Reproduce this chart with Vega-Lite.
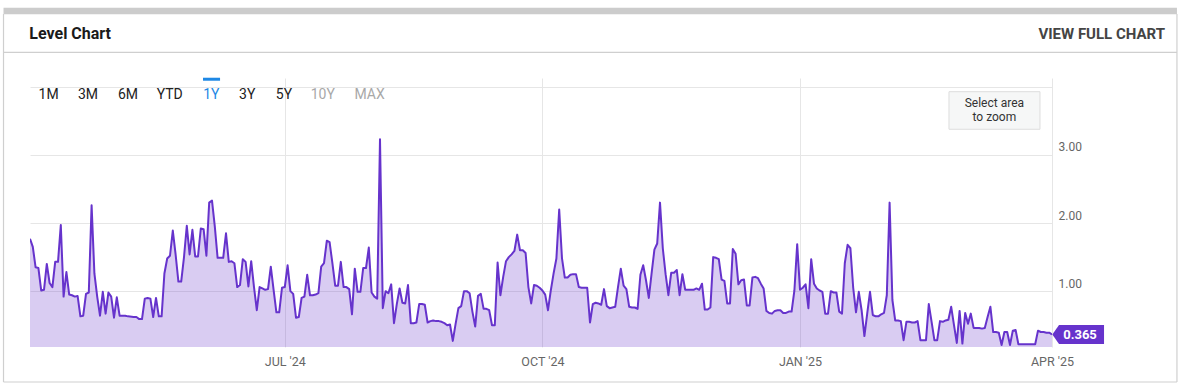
{
"$schema": "https://vega.github.io/schema/vega-lite/v6.json",
"width": 1022, "height": 269,
"autosize": {"type": "none"},
"padding": {"left": 30, "top": 78, "right": 138, "bottom": 43},
"background": "#ffffff",
"config": {"view": {"stroke": null}, "font": "Roboto"},
"datasets": {"level": [
{"date":"2024-04-01","level":1.77},{"date":"2024-04-02","level":1.65},{"date":"2024-04-03","level":1.35},{"date":"2024-04-04","level":1.34},{"date":"2024-04-05","level":1.01},{"date":"2024-04-06","level":1.02},{"date":"2024-04-07","level":1.40},{"date":"2024-04-08","level":1.12},{"date":"2024-04-09","level":1.06},{"date":"2024-04-10","level":1.43},{"date":"2024-04-11","level":1.43},{"date":"2024-04-12","level":1.97},{"date":"2024-04-13","level":0.92},{"date":"2024-04-14","level":1.28},{"date":"2024-04-15","level":0.95},{"date":"2024-04-16","level":0.94},{"date":"2024-04-17","level":0.92},{"date":"2024-04-18","level":0.93},{"date":"2024-04-19","level":0.63},{"date":"2024-04-20","level":0.64},{"date":"2024-04-21","level":0.96},{"date":"2024-04-22","level":0.98},{"date":"2024-04-23","level":2.26},{"date":"2024-04-24","level":1.26},{"date":"2024-04-25","level":0.92},{"date":"2024-04-26","level":0.64},{"date":"2024-04-27","level":0.99},{"date":"2024-04-28","level":0.67},{"date":"2024-04-29","level":0.98},{"date":"2024-04-30","level":0.92},
{"date":"2024-05-01","level":0.61},{"date":"2024-05-02","level":0.91},{"date":"2024-05-03","level":0.64},{"date":"2024-05-04","level":0.64},{"date":"2024-05-05","level":0.64},{"date":"2024-05-06","level":0.63},{"date":"2024-05-08","level":0.62},{"date":"2024-05-09","level":0.62},{"date":"2024-05-10","level":0.59},{"date":"2024-05-11","level":0.59},{"date":"2024-05-12","level":0.89},{"date":"2024-05-13","level":0.90},{"date":"2024-05-14","level":0.89},{"date":"2024-05-15","level":0.62},{"date":"2024-05-16","level":0.90},{"date":"2024-05-17","level":0.63},{"date":"2024-05-18","level":0.63},{"date":"2024-05-19","level":1.26},{"date":"2024-05-20","level":1.48},{"date":"2024-05-21","level":1.52},{"date":"2024-05-22","level":1.89},{"date":"2024-05-23","level":1.54},{"date":"2024-05-24","level":1.14},{"date":"2024-05-25","level":1.14},{"date":"2024-05-26","level":1.50},{"date":"2024-05-27","level":1.96},{"date":"2024-05-28","level":1.54},{"date":"2024-05-29","level":1.90},{"date":"2024-05-30","level":1.51},{"date":"2024-05-31","level":1.51},
{"date":"2024-06-01","level":1.92},{"date":"2024-06-02","level":1.91},{"date":"2024-06-03","level":1.52},{"date":"2024-06-04","level":2.30},{"date":"2024-06-05","level":2.33},{"date":"2024-06-06","level":1.95},{"date":"2024-06-07","level":1.49},{"date":"2024-06-08","level":1.49},{"date":"2024-06-09","level":1.49},{"date":"2024-06-10","level":1.85},{"date":"2024-06-11","level":1.43},{"date":"2024-06-12","level":1.44},{"date":"2024-06-13","level":1.41},{"date":"2024-06-14","level":1.06},{"date":"2024-06-15","level":1.09},{"date":"2024-06-16","level":1.47},{"date":"2024-06-17","level":1.43},{"date":"2024-06-18","level":1.07},{"date":"2024-06-19","level":1.44},{"date":"2024-06-20","level":1.06},{"date":"2024-06-21","level":0.72},{"date":"2024-06-22","level":1.06},{"date":"2024-06-23","level":1.04},{"date":"2024-06-24","level":1.02},{"date":"2024-06-25","level":1.03},{"date":"2024-06-26","level":1.36},{"date":"2024-06-27","level":1.02},{"date":"2024-06-28","level":0.69},{"date":"2024-06-29","level":0.69},{"date":"2024-06-30","level":1.05},
{"date":"2024-07-01","level":1.06},{"date":"2024-07-02","level":1.38},{"date":"2024-07-03","level":1.00},{"date":"2024-07-04","level":0.96},{"date":"2024-07-05","level":0.61},{"date":"2024-07-06","level":0.62},{"date":"2024-07-07","level":0.90},{"date":"2024-07-08","level":0.92},{"date":"2024-07-09","level":1.24},{"date":"2024-07-10","level":0.94},{"date":"2024-07-11","level":0.94},{"date":"2024-07-12","level":0.95},{"date":"2024-07-13","level":0.97},{"date":"2024-07-14","level":1.36},{"date":"2024-07-15","level":1.41},{"date":"2024-07-16","level":1.74},{"date":"2024-07-17","level":1.72},{"date":"2024-07-18","level":1.41},{"date":"2024-07-19","level":1.08},{"date":"2024-07-20","level":1.08},{"date":"2024-07-21","level":1.43},{"date":"2024-07-22","level":1.06},{"date":"2024-07-23","level":1.06},{"date":"2024-07-24","level":1.03},{"date":"2024-07-25","level":0.66},{"date":"2024-07-26","level":1.33},{"date":"2024-07-27","level":0.99},{"date":"2024-07-28","level":0.99},{"date":"2024-07-29","level":1.34},{"date":"2024-07-30","level":1.34},{"date":"2024-07-31","level":1.64},
{"date":"2024-08-01","level":0.98},{"date":"2024-08-02","level":0.92},{"date":"2024-08-03","level":0.89},{"date":"2024-08-04","level":3.23},{"date":"2024-08-05","level":0.75},{"date":"2024-08-06","level":1.00},{"date":"2024-08-07","level":0.97},{"date":"2024-08-08","level":1.10},{"date":"2024-08-09","level":0.53},{"date":"2024-08-10","level":0.81},{"date":"2024-08-11","level":1.04},{"date":"2024-08-12","level":0.83},{"date":"2024-08-13","level":0.82},{"date":"2024-08-14","level":1.09},{"date":"2024-08-15","level":0.53},{"date":"2024-08-16","level":0.53},{"date":"2024-08-17","level":0.54},{"date":"2024-08-18","level":0.81},{"date":"2024-08-19","level":0.81},{"date":"2024-08-20","level":0.80},{"date":"2024-08-21","level":0.54},{"date":"2024-08-22","level":0.56},{"date":"2024-08-23","level":0.57},{"date":"2024-08-24","level":0.56},{"date":"2024-08-25","level":0.56},{"date":"2024-08-26","level":0.55},{"date":"2024-08-27","level":0.53},{"date":"2024-08-28","level":0.50},{"date":"2024-08-29","level":0.51},{"date":"2024-08-30","level":0.27},{"date":"2024-08-31","level":0.52},
{"date":"2024-09-01","level":0.75},{"date":"2024-09-02","level":0.78},{"date":"2024-09-03","level":1.00},{"date":"2024-09-04","level":1.00},{"date":"2024-09-05","level":0.97},{"date":"2024-09-06","level":0.70},{"date":"2024-09-07","level":0.48},{"date":"2024-09-08","level":0.93},{"date":"2024-09-09","level":0.96},{"date":"2024-09-10","level":0.74},{"date":"2024-09-11","level":0.74},{"date":"2024-09-12","level":0.72},{"date":"2024-09-13","level":0.50},{"date":"2024-09-14","level":0.50},{"date":"2024-09-15","level":1.42},{"date":"2024-09-16","level":0.94},{"date":"2024-09-17","level":1.21},{"date":"2024-09-18","level":1.44},{"date":"2024-09-19","level":1.50},{"date":"2024-09-20","level":1.54},{"date":"2024-09-21","level":1.59},{"date":"2024-09-22","level":1.83},{"date":"2024-09-23","level":1.60},{"date":"2024-09-24","level":1.60},{"date":"2024-09-25","level":1.56},{"date":"2024-09-26","level":1.06},{"date":"2024-09-27","level":0.82},{"date":"2024-09-28","level":1.09},{"date":"2024-09-29","level":1.08},{"date":"2024-09-30","level":1.05},
{"date":"2024-10-01","level":1.01},{"date":"2024-10-02","level":0.95},{"date":"2024-10-03","level":0.72},{"date":"2024-10-04","level":1.01},{"date":"2024-10-05","level":1.26},{"date":"2024-10-06","level":1.48},{"date":"2024-10-07","level":2.20},{"date":"2024-10-08","level":1.48},{"date":"2024-10-09","level":1.20},{"date":"2024-10-10","level":1.20},{"date":"2024-10-11","level":1.24},{"date":"2024-10-12","level":1.25},{"date":"2024-10-13","level":1.25},{"date":"2024-10-14","level":1.06},{"date":"2024-10-15","level":1.05},{"date":"2024-10-16","level":1.05},{"date":"2024-10-17","level":1.05},{"date":"2024-10-18","level":0.54},{"date":"2024-10-19","level":0.81},{"date":"2024-10-20","level":0.83},{"date":"2024-10-21","level":0.82},{"date":"2024-10-22","level":0.80},{"date":"2024-10-23","level":1.03},{"date":"2024-10-24","level":0.78},{"date":"2024-10-25","level":0.75},{"date":"2024-10-26","level":0.76},{"date":"2024-10-27","level":0.77},{"date":"2024-10-28","level":1.06},{"date":"2024-10-29","level":1.33},{"date":"2024-10-30","level":1.08},{"date":"2024-10-31","level":1.03},
{"date":"2024-11-01","level":0.77},{"date":"2024-11-02","level":0.76},{"date":"2024-11-03","level":0.76},{"date":"2024-11-04","level":0.74},{"date":"2024-11-05","level":1.24},{"date":"2024-11-06","level":1.38},{"date":"2024-11-07","level":1.16},{"date":"2024-11-08","level":0.90},{"date":"2024-11-09","level":1.26},{"date":"2024-11-10","level":1.61},{"date":"2024-11-11","level":1.70},{"date":"2024-11-12","level":2.30},{"date":"2024-11-13","level":1.63},{"date":"2024-11-14","level":1.25},{"date":"2024-11-15","level":0.94},{"date":"2024-11-16","level":1.27},{"date":"2024-11-17","level":1.27},{"date":"2024-11-18","level":1.31},{"date":"2024-11-19","level":0.94},{"date":"2024-11-20","level":1.25},{"date":"2024-11-21","level":1.02},{"date":"2024-11-22","level":1.02},{"date":"2024-11-23","level":1.02},{"date":"2024-11-24","level":1.02},{"date":"2024-11-25","level":1.04},{"date":"2024-11-26","level":1.02},{"date":"2024-11-27","level":1.11},{"date":"2024-11-28","level":0.73},{"date":"2024-11-29","level":0.73},{"date":"2024-11-30","level":0.76},
{"date":"2024-12-01","level":1.50},{"date":"2024-12-02","level":1.49},{"date":"2024-12-03","level":1.47},{"date":"2024-12-04","level":1.17},{"date":"2024-12-05","level":1.15},{"date":"2024-12-06","level":0.82},{"date":"2024-12-07","level":0.82},{"date":"2024-12-08","level":1.62},{"date":"2024-12-09","level":1.55},{"date":"2024-12-10","level":1.10},{"date":"2024-12-11","level":1.16},{"date":"2024-12-12","level":1.17},{"date":"2024-12-13","level":0.79},{"date":"2024-12-14","level":0.79},{"date":"2024-12-15","level":1.20},{"date":"2024-12-16","level":1.21},{"date":"2024-12-17","level":1.19},{"date":"2024-12-18","level":1.11},{"date":"2024-12-19","level":1.04},{"date":"2024-12-20","level":0.71},{"date":"2024-12-21","level":0.68},{"date":"2024-12-22","level":0.67},{"date":"2024-12-23","level":0.71},{"date":"2024-12-24","level":0.72},{"date":"2024-12-25","level":0.72},{"date":"2024-12-26","level":0.68},{"date":"2024-12-27","level":0.68},{"date":"2024-12-28","level":0.70},{"date":"2024-12-29","level":0.70},{"date":"2024-12-30","level":1.01},{"date":"2024-12-31","level":1.69},
{"date":"2025-01-01","level":1.02},{"date":"2025-01-02","level":1.05},{"date":"2025-01-03","level":1.10},{"date":"2025-01-04","level":0.75},{"date":"2025-01-05","level":1.47},{"date":"2025-01-06","level":1.11},{"date":"2025-01-07","level":1.04},{"date":"2025-01-08","level":1.01},{"date":"2025-01-09","level":0.99},{"date":"2025-01-10","level":0.67},{"date":"2025-01-11","level":0.67},{"date":"2025-01-12","level":1.00},{"date":"2025-01-13","level":0.98},{"date":"2025-01-14","level":0.98},{"date":"2025-01-15","level":0.70},{"date":"2025-01-16","level":0.67},{"date":"2025-01-17","level":1.41},{"date":"2025-01-18","level":1.68},{"date":"2025-01-19","level":1.63},{"date":"2025-01-20","level":1.05},{"date":"2025-01-21","level":0.69},{"date":"2025-01-22","level":0.99},{"date":"2025-01-23","level":0.72},{"date":"2025-01-24","level":0.34},{"date":"2025-01-25","level":0.67},{"date":"2025-01-26","level":0.99},{"date":"2025-01-27","level":0.65},{"date":"2025-01-28","level":0.63},{"date":"2025-01-29","level":0.63},{"date":"2025-01-30","level":0.66},{"date":"2025-01-31","level":0.68},
{"date":"2025-02-01","level":0.94},{"date":"2025-02-02","level":2.30},{"date":"2025-02-03","level":0.87},{"date":"2025-02-04","level":0.57},{"date":"2025-02-05","level":0.57},{"date":"2025-02-06","level":0.56},{"date":"2025-02-07","level":0.28},{"date":"2025-02-08","level":0.55},{"date":"2025-02-09","level":0.55},{"date":"2025-02-10","level":0.54},{"date":"2025-02-11","level":0.54},{"date":"2025-02-12","level":0.56},{"date":"2025-02-13","level":0.28},{"date":"2025-02-14","level":0.28},{"date":"2025-02-15","level":0.28},{"date":"2025-02-16","level":0.81},{"date":"2025-02-17","level":0.55},{"date":"2025-02-18","level":0.28},{"date":"2025-02-19","level":0.28},{"date":"2025-02-20","level":0.56},{"date":"2025-02-21","level":0.55},{"date":"2025-02-22","level":0.57},{"date":"2025-02-23","level":0.58},{"date":"2025-02-24","level":0.77},{"date":"2025-02-25","level":0.50},{"date":"2025-02-26","level":0.24},{"date":"2025-02-27","level":0.71},{"date":"2025-02-28","level":0.23},
{"date":"2025-03-01","level":0.68},{"date":"2025-03-02","level":0.52},{"date":"2025-03-03","level":0.67},{"date":"2025-03-04","level":0.46},{"date":"2025-03-05","level":0.46},{"date":"2025-03-06","level":0.46},{"date":"2025-03-07","level":0.45},{"date":"2025-03-08","level":0.46},{"date":"2025-03-09","level":0.62},{"date":"2025-03-10","level":0.77},{"date":"2025-03-11","level":0.40},{"date":"2025-03-12","level":0.40},{"date":"2025-03-13","level":0.39},{"date":"2025-03-14","level":0.21},{"date":"2025-03-15","level":0.40},{"date":"2025-03-16","level":0.40},{"date":"2025-03-17","level":0.21},{"date":"2025-03-18","level":0.42},{"date":"2025-03-19","level":0.43},{"date":"2025-03-20","level":0.22},{"date":"2025-03-21","level":0.22},{"date":"2025-03-23","level":0.22},{"date":"2025-03-25","level":0.22},{"date":"2025-03-26","level":0.22},{"date":"2025-03-27","level":0.42},{"date":"2025-03-28","level":0.40},{"date":"2025-03-29","level":0.40},{"date":"2025-03-30","level":0.39},{"date":"2025-03-31","level":0.39},{"date":"2025-04-01","level":0.365}
]},
"layer": [
{"data": {"name": "level"},
 "mark": {"type": "area", "color": "#6633cc", "fillOpacity": 0.25, "clip": true},
 "encoding": {
  "x": {"field": "date", "type": "temporal", "title": null,
        "scale": {"type": "utc", "nice": false, "domain": [{"year": 2024, "month": 4, "date": 1, "utc": true}, {"year": 2025, "month": 4, "date": 1, "utc": true}]},
        "axis": {"title": null, "values": [{"year": 2024, "month": 7, "date": 1, "utc": true}, {"year": 2024, "month": 10, "date": 1, "utc": true}, {"year": 2025, "month": 1, "date": 1, "utc": true}, {"year": 2025, "month": 4, "date": 1, "utc": true}],
                 "labelExpr": "upper(utcFormat(datum.value, \"%b '%y\"))", "grid": true, "gridColor": "#e6e6e6", "ticks": false, "domain": false,
                 "labelColor": "#666666", "labelFontSize": 12.5, "labelFont": "Roboto", "labelPadding": 8, "labelBaseline": "top", "labelFlush": false, "labelOverlap": false, "labelBound": false}},
  "y": {"field": "level", "type": "quantitative", "title": null,
        "scale": {"domain": [0.18, 4.13], "zero": false, "nice": false},
        "axis": {"orient": "right", "title": null, "values": [1, 2, 3, 4], "labelExpr": "datum.value == 4 ? '' : format(datum.value, '.2f')",
                 "grid": true, "gridColor": "#e6e6e6", "ticks": false, "domain": false, "labelColor": "#666666", "labelFontSize": 12, "labelFont": "Roboto",
                 "labelPadding": 6, "labelBaseline": "alphabetic", "labelOffset": -4, "labelAlign": "left"}},
  "y2": {"datum": 0.18}}},
{"data": {"name": "level"},
 "mark": {"type": "line", "color": "#6633cc", "strokeWidth": 2, "strokeJoin": "round", "clip": true},
 "encoding": {"x": {"field": "date", "type": "temporal", "title": null}, "y": {"field": "level", "type": "quantitative", "title": null}}},
{"data": {"values": [{"date": "2024-03-22T13:00:00Z", "date2": "2025-05-15T15:00:00Z", "level": 5.114, "level2": 5.114}]},
 "mark": {"type": "rule", "color": "#cccccc", "strokeWidth": 6.6, "clip": false},
 "encoding": {"x": {"field": "date", "type": "temporal", "title": null}, "x2": {"field": "date2"}, "y": {"field": "level", "type": "quantitative", "title": null}, "y2": {"field": "level2"}}},
{"data": {"values": [
  {"date": "2024-03-22T13:00:00Z", "date2": "2025-05-15T15:00:00Z", "level": 4.507, "level2": 4.507},
  {"date": "2024-03-22T13:00:00Z", "date2": "2025-05-15T15:00:00Z", "level": -0.334, "level2": -0.334},
  {"date": "2024-03-22T13:00:00Z", "date2": "2024-03-22T13:00:00Z", "level": 5.07, "level2": -0.334},
  {"date": "2025-05-15T15:00:00Z", "date2": "2025-05-15T15:00:00Z", "level": 5.07, "level2": -0.334}]},
 "mark": {"type": "rule", "color": "#cfcfcf", "strokeWidth": 1.2, "clip": false},
 "encoding": {"x": {"field": "date", "type": "temporal", "title": null}, "x2": {"field": "date2"}, "y": {"field": "level", "type": "quantitative", "title": null}, "y2": {"field": "level2"}}},
{"data": {"values": [{"date": "2024-03-31T18:00:00Z", "level": 4.776, "label": "Level Chart"}]},
 "mark": {"type": "text", "align": "left", "baseline": "middle", "fontWeight": "bold", "fontSize": 16, "color": "#1a1a1a", "font": "Liberation Sans Narrow, Roboto", "clip": false},
 "encoding": {"x": {"field": "date", "type": "temporal", "title": null}, "y": {"field": "level", "type": "quantitative", "title": null}, "text": {"field": "label"}}},
{"data": {"values": [{"date": "2025-05-11T09:00:00Z", "level": 4.776, "label": "VIEW FULL CHART"}]},
 "mark": {"type": "text", "align": "right", "baseline": "middle", "fontWeight": "bold", "fontSize": 15, "color": "#444444", "font": "Liberation Sans Narrow, Roboto", "clip": false},
 "encoding": {"x": {"field": "date", "type": "temporal", "title": null}, "y": {"field": "level", "type": "quantitative", "title": null}, "text": {"field": "label"}}},
{"data": {"values": [
  {"date": "2024-04-07T16:00:00Z", "level": 3.885, "label": "1M"},
  {"date": "2024-04-21T17:00:00Z", "level": 3.885, "label": "3M"},
  {"date": "2024-05-06T00:00:00Z", "level": 3.885, "label": "6M"},
  {"date": "2024-05-20T22:00:00Z", "level": 3.885, "label": "YTD"},
  {"date": "2024-06-04T18:00:00Z", "level": 3.885, "label": "1Y"},
  {"date": "2024-06-17T14:00:00Z", "level": 3.885, "label": "3Y"},
  {"date": "2024-06-30T17:00:00Z", "level": 3.885, "label": "5Y"},
  {"date": "2024-07-14T14:00:00Z", "level": 3.885, "label": "10Y"},
  {"date": "2024-07-31T07:00:00Z", "level": 3.885, "label": "MAX"}]},
 "mark": {"type": "text", "align": "center", "baseline": "middle", "fontSize": 14, "font": "Roboto", "clip": false},
 "encoding": {"x": {"field": "date", "type": "temporal", "title": null}, "y": {"field": "level", "type": "quantitative", "title": null}, "text": {"field": "label"},
   "color": {"condition": [{"test": "datum.label == '1Y'", "value": "#1e88e5"}, {"test": "datum.label == '10Y' || datum.label == 'MAX'", "value": "#a8a8a8"}], "value": "#222222"}}},
{"data": {"values": [{"date": "2024-06-01T19:00:00Z", "date2": "2024-06-07T21:00:00Z", "level": 4.112, "level2": 4.112}]},
 "mark": {"type": "rule", "color": "#1e88e5", "strokeWidth": 3, "clip": false},
 "encoding": {"x": {"field": "date", "type": "temporal", "title": null}, "x2": {"field": "date2"}, "y": {"field": "level", "type": "quantitative", "title": null}, "y2": {"field": "level2"}}},
{"data": {"values": [{"date": "2025-02-23T05:00:00Z", "date2": "2025-03-27T17:00:00Z", "level": 3.929, "level2": 3.377}]},
 "mark": {"type": "rect", "fill": "#f6f7f7", "stroke": "#dddddd", "strokeWidth": 1, "clip": false},
 "encoding": {"x": {"field": "date", "type": "temporal", "title": null}, "x2": {"field": "date2"}, "y": {"field": "level", "type": "quantitative", "title": null}, "y2": {"field": "level2"}}},
{"data": {"values": [{"date": "2025-03-11T10:00:00Z", "level": 3.767, "label": "Select area"}, {"date": "2025-03-11T10:00:00Z", "level": 3.562, "label": "to zoom"}]},
 "mark": {"type": "text", "align": "center", "baseline": "middle", "fontSize": 12, "color": "#333333", "font": "Roboto", "clip": false},
 "encoding": {"x": {"field": "date", "type": "temporal", "title": null}, "y": {"field": "level", "type": "quantitative", "title": null}, "text": {"field": "label"}}},
{"data": {"values": [{"date": "2025-04-03T12:00:00Z", "date2": "2025-04-19T14:00:00Z", "level": 0.503, "level2": 0.224}]},
 "mark": {"type": "rect", "fill": "#6633cc", "clip": false},
 "encoding": {"x": {"field": "date", "type": "temporal", "title": null}, "x2": {"field": "date2"}, "y": {"field": "level", "type": "quantitative", "title": null}, "y2": {"field": "level2"}}},
{"data": {"values": [{"date": "2025-04-03T12:00:00Z", "level": 0.3635}]},
 "mark": {"type": "point", "shape": "M0,-1L0,1L-0.7,0Z", "filled": true, "fill": "#6633cc", "opacity": 1, "size": 361, "strokeWidth": 0, "clip": false},
 "encoding": {"x": {"field": "date", "type": "temporal", "title": null}, "y": {"field": "level", "type": "quantitative", "title": null}}},
{"data": {"values": [{"date": "2025-04-11T00:00:00Z", "level": 0.3635, "label": "0.365"}]},
 "mark": {"type": "text", "align": "center", "baseline": "middle", "fontSize": 13, "fontWeight": "bold", "color": "#ffffff", "font": "Roboto", "clip": false},
 "encoding": {"x": {"field": "date", "type": "temporal", "title": null}, "y": {"field": "level", "type": "quantitative", "title": null}, "text": {"field": "label"}}}
]
}
